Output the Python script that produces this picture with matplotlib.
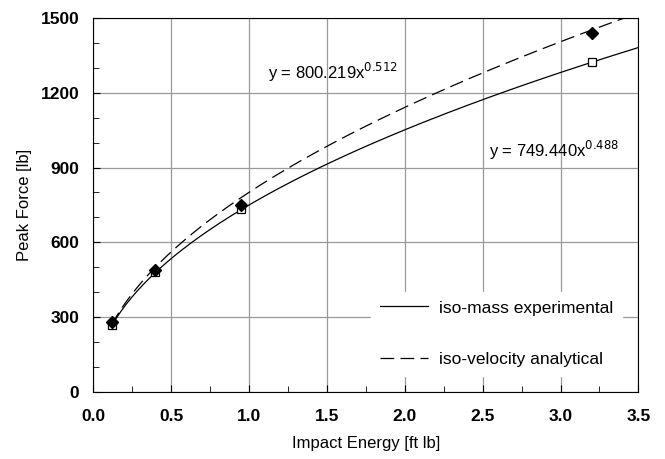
import numpy as np
import matplotlib.pyplot as plt
from matplotlib.ticker import MultipleLocator

plt.rcParams['font.family'] = ['Liberation Sans', 'DejaVu Sans']

# measured points
energy = [0.12, 0.40, 0.95, 3.20]
force_mass = [270, 480, 735, 1325]      # iso-mass experimental (open squares)
force_vel = [282, 490, 748, 1440]       # iso-velocity analytical (diamonds)

# power-law fits as printed on the chart
fit_mass = (749.440, 0.488)
fit_vel = (800.219, 0.512)

x_fit = np.linspace(min(energy), 3.5, 200)

fig, ax = plt.subplots(figsize=(6.65, 4.59), dpi=100)
fig.subplots_adjust(left=0.14, right=0.96, bottom=0.146, top=0.961)

ax.plot(x_fit, fit_mass[0] * x_fit ** fit_mass[1], color='black', lw=0.9,
        label='iso-mass experimental')
ax.plot(x_fit, fit_vel[0] * x_fit ** fit_vel[1], color='black', lw=0.9,
        dashes=(11, 5), label='iso-velocity analytical')
ax.plot(energy, force_mass, ls='none', marker='s', ms=6, mfc='white',
        mec='black', mew=0.9)
ax.plot(energy, force_vel, ls='none', marker='D', ms=6.5, color='black')

ax.text(1.12, 1283, r'y = 800.219x$^{0.512}$', fontsize=12, va='center')
ax.text(2.54, 970, r'y = 749.440x$^{0.488}$', fontsize=12, va='center')

ax.set_xlim(0, 3.5)
ax.set_ylim(0, 1500)
ax.xaxis.set_major_locator(MultipleLocator(0.5))
ax.xaxis.set_minor_locator(MultipleLocator(0.25))
ax.yaxis.set_major_locator(MultipleLocator(300))
ax.yaxis.set_minor_locator(MultipleLocator(100))
ax.xaxis.set_major_formatter(plt.FormatStrFormatter('%.1f'))
ax.tick_params(which='both', direction='in', labelsize=12.5)
ax.tick_params(which='major', length=5)
ax.tick_params(which='minor', length=4)
ax.tick_params(axis='x', pad=12)
ax.tick_params(axis='y', pad=10)
for lab in ax.get_xticklabels() + ax.get_yticklabels():
    lab.set_fontweight('bold')
ax.grid(True, which='major', color='#999999', lw=0.9)
ax.set_axisbelow(True)

ax.set_xlabel('Impact Energy [ft lb]', fontsize=12, labelpad=9)
ax.set_ylabel('Peak Force [lb]', fontsize=12, labelpad=6)

leg = ax.legend(loc='lower right', bbox_to_anchor=(0.985, 0.02), frameon=True,
                fontsize=12.5, handlelength=2.8, handletextpad=0.6,
                labelspacing=2.1, borderpad=0.5, fancybox=False)
leg.get_frame().set_edgecolor('white')
leg.get_frame().set_alpha(1)

fig.savefig('out.png')
